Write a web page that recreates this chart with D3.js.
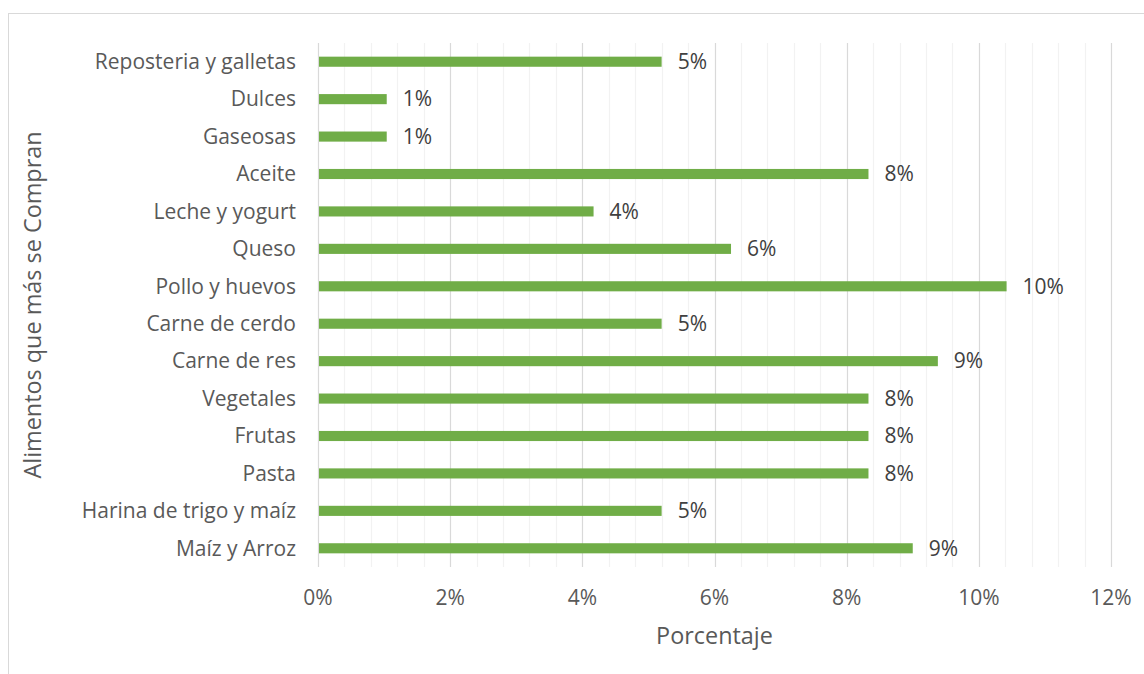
<!DOCTYPE html>
<html><head><meta charset="utf-8">
<script src="https://cdn.jsdelivr.net/npm/d3@7"></script>
<style>body{margin:0;background:#fff;}svg{display:block;font-family:"Open Sans",Lato,sans-serif;}</style>
</head><body>
<svg id="c" width="1144" height="674"></svg>
<script>
const categories = ["Reposteria y galletas","Dulces","Gaseosas","Aceite","Leche y yogurt","Queso","Pollo y huevos","Carne de cerdo","Carne de res","Vegetales","Frutas","Pasta","Harina de trigo y maíz","Maíz y Arroz"];
const values = [5.2, 1.04, 1.04, 8.33, 4.17, 6.25, 10.42, 5.2, 9.38, 8.33, 8.33, 8.33, 5.2, 9.0];
const valueLabels = ["5%","1%","1%","8%","4%","6%","10%","5%","9%","8%","8%","8%","5%","9%"];
const xTicks = [0,2,4,6,8,10,12];
const xTitle = "Porcentaje";
const yTitle = "Alimentos que más se Compran";

const svg = d3.select("#c");
svg.append("rect").attr("x",8.5).attr("y",13.5).attr("width",1150).attr("height",680)
  .attr("fill","#fff").attr("stroke","#d9d9d9").attr("stroke-width",1);

const L=318, R=1111, T=43, B=567;
const x = d3.scaleLinear().domain([0,12]).range([L,R]);
const y = d3.scaleBand().domain(categories).range([T,B]).paddingInner(0.73).paddingOuter(0.365);

// minor gridlines
const minor = d3.range(0,12.0001,0.4).filter(v=>Math.abs(v/2-Math.round(v/2))>1e-6);
svg.append("g").selectAll("line").data(minor).join("line")
  .attr("x1",d=>Math.round(x(d))+0.5).attr("x2",d=>Math.round(x(d))+0.5)
  .attr("y1",T).attr("y2",B).attr("stroke","#f2f2f2").attr("stroke-width",1.2);
svg.append("g").selectAll("line").data(xTicks).join("line")
  .attr("x1",d=>Math.round(x(d))+0.5).attr("x2",d=>Math.round(x(d))+0.5)
  .attr("y1",T).attr("y2",B).attr("stroke","#d9d9d9").attr("stroke-width",1.2);

// bars
svg.append("g").selectAll("rect").data(categories).join("rect")
  .attr("x",x(0)+1).attr("y",d=>y(d)).attr("height",y.bandwidth())
  .attr("width",(d,i)=>x(values[i])-x(0)-1).attr("fill","#70ad47");

// value labels
svg.append("g").selectAll("text").data(categories).join("text")
  .attr("x",(d,i)=>x(values[i])+16).attr("y",d=>y(d)+y.bandwidth()/2)
  .attr("dy","0.35em").attr("font-size",21).attr("fill","#404040")
  .text((d,i)=>valueLabels[i]);

// y axis labels
svg.append("g").selectAll("text").data(categories).join("text")
  .attr("x",296).attr("y",d=>y(d)+y.bandwidth()/2).attr("dy","0.35em")
  .attr("text-anchor","end").attr("font-size",21).attr("fill","#595959").text(d=>d);

// x axis labels
svg.append("g").selectAll("text").data(xTicks).join("text")
  .attr("x",d=>x(d)).attr("y",598).attr("dy","0.35em").attr("text-anchor","middle")
  .attr("font-size",21).attr("fill","#595959").text(d=>d+"%");

svg.append("text").attr("x",(L+R)/2).attr("y",636).attr("dy","0.35em").attr("text-anchor","middle")
  .attr("font-size",23.4).attr("fill","#595959").text(xTitle);
svg.append("text").attr("transform",`translate(33,${(T+B)/2}) rotate(-90)`).attr("dy","0.35em")
  .attr("text-anchor","middle").attr("font-size",23.4).attr("fill","#595959").text(yTitle);
</script>
</body></html>
